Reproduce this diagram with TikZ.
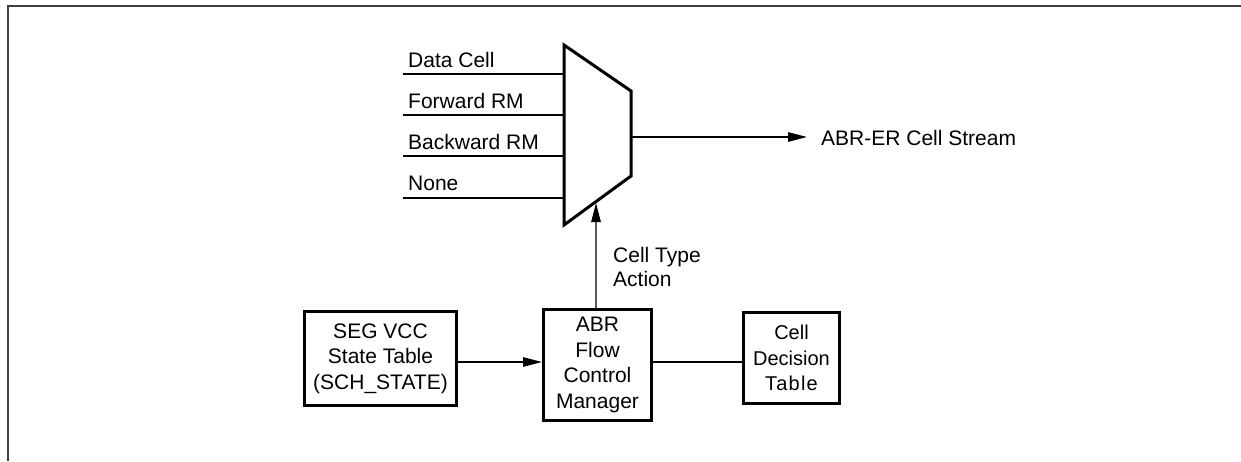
\documentclass[tikz,border=0pt]{standalone}
\usepackage{fontspec}
\setmainfont{Liberation Sans}
\usetikzlibrary{arrows.meta,calc}
\begin{document}
\begin{tikzpicture}[x=1pt,y=1pt,
  font=\fontsize{21}{25.5}\selectfont,
  box/.style={draw,line width=3pt,align=center,inner sep=0pt},
  thin/.style={line width=1.3pt},
  arr/.style={thin,-{Triangle[length=19pt,width=9.5pt]}},
  lbl/.style={anchor=base west,inner sep=0pt}]
\useasboundingbox (0,0) rectangle (1241,-461);
\fill[white] (0,0) rectangle (1241,-461);
% frame
\draw[line width=2pt,black!75] (8,-461) -- (8,-6) -- (1241,-6);
% mux
\coordinate (m1) at (564,-45);
\coordinate (m2) at (631,-91);
\coordinate (m3) at (631,-176);
\coordinate (m4) at (564,-225);
% inputs
\coordinate (i1) at (403,-74);
\coordinate (i2) at (403,-115);
\coordinate (i3) at (403,-156);
\coordinate (i4) at (403,-198);
\draw[thin] (i1) -- (m1 |- i1);
\draw[thin] (i2) -- (m1 |- i2);
\draw[thin] (i3) -- (m1 |- i3);
\draw[thin] (i4) -- (m1 |- i4);
\node[lbl] (l1) at (408,-67) {Data Cell};
\node[lbl] (l2) at (408,-108) {Forward RM};
\node[lbl] (l3) at (408,-149) {Backward RM};
\node[lbl] (l4) at (408,-190) {None};
% output
\coordinate (o1) at (631,-137);
\coordinate (o2) at (807,-137);
\draw[arr] (o1) -- (o2);
\node[lbl] (out) at (821,-145) {ABR-ER Cell Stream};
% boxes
\node[box,minimum width=152pt,minimum height=94pt] (seg) at (380.5,-358.5) {SEG VCC\\State Table\\(SCH\_STATE)};
\node[box,minimum width=108pt,minimum height=111pt] (abr) at (597.5,-365) {ABR\\Flow\\Control\\Manager};
\node[box,minimum width=96pt,minimum height=91pt,font=\fontsize{20}{25.5}\selectfont] (cdt) at (791.5,-358) {Cell\\Decision\\{\addfontfeature{LetterSpace=6}Table}};
% control arrow
\coordinate (mb) at ($(m4)!0.478!(m3)$);
\coordinate (cx) at (596,0);
\draw[arr] (cx |- abr.north) -- ([yshift=-1.5pt]mb);
\node[lbl] (ct) at (613,-262) {Cell Type};
\node[lbl] (ca) at (613,-286) {Action};
% connections
\coordinate (my) at (0,-362);
\draw[arr] (seg.east |- my) -- (abr.west |- my);
\draw[thin] (abr.east |- my) -- (cdt.west |- my);
% mux outline on top
\draw[line width=3pt,line join=miter] (m1) -- (m2) -- (m3) -- (m4) -- cycle;
\end{tikzpicture}
\end{document}
